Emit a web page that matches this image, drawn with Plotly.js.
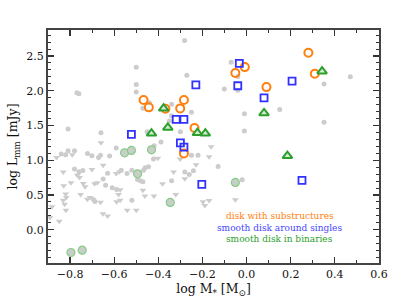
<!DOCTYPE html>
<html>
<head>
<meta charset="utf-8">
<script src="https://cdn.plot.ly/plotly-3.0.1.min.js"></script>
<style>html,body{margin:0;padding:0;background:#fff;}#chart{width:399px;height:299px;}</style>
</head>
<body>
<div id="chart"></div>
<script>
// Gray background sample: detections (circles)
const grayDetX = [-0.281,-0.500,-0.271,-0.500,-0.500,-0.769,-0.760,-0.470,-0.441,-0.340,-0.250,-0.340,-0.350,-0.809,-0.660,-0.451,-0.300,-0.388,-0.419,-0.591,-0.070,-0.040,-0.101,-0.040,-0.010,0.150,-0.010,0.351,0.470,0.351,
  -0.840,-0.820,-0.809,-0.780,-0.721,-0.701,-0.671,-0.662,-0.621,-0.780,-0.760,-0.742,-0.630,-0.568,-0.542,-0.650,-0.639,-0.609,-0.589,-0.694,-0.687,
  -0.422,-0.445,-0.460,-0.467,-0.520,-0.494,-0.482,-0.470,-0.340,-0.280,-0.260,-0.241,-0.250,-0.220,-0.520,-0.129,-0.020];
const grayDetY = [2.723,2.337,2.223,2.089,1.981,1.971,1.957,1.748,1.827,1.805,1.690,1.640,1.563,1.448,1.395,1.409,1.409,1.261,1.210,1.177,2.409,2.207,2.024,2.007,1.669,1.732,1.419,2.097,2.202,1.545,
  1.088,1.078,1.135,1.135,1.098,1.063,1.040,1.073,1.059,0.872,0.833,0.853,0.814,0.857,0.810,0.728,0.641,0.602,0.579,0.435,0.406,
  1.016,0.905,0.891,0.857,0.857,0.723,0.703,0.689,0.703,0.829,0.795,0.847,1.073,1.073,0.425,0.911,0.718];
// Gray background sample: upper limits (down triangles)
const grayLimX = [-0.660,-0.161,-0.861,-0.790,-0.650,-0.831,-0.701,-0.767,-0.757,-0.591,-0.576,-0.796,-0.829,-0.740,-0.732,-0.689,-0.677,-0.573,-0.580,-0.589,-0.573,-0.820,-0.817,-0.752,-0.722,-0.710,-0.662,-0.831,-0.825,-0.819,-0.882,-0.891,-0.849,-0.651,-0.630,-0.541,
  -0.402,-0.470,-0.461,-0.420,-0.381,-0.331,-0.301,-0.280,-0.229,-0.170,-0.321,-0.500,-0.198,-0.189,-0.170,-0.051];
const grayLimY = [1.251,1.193,1.040,1.078,0.929,0.829,0.867,0.785,0.752,0.810,0.833,0.674,0.631,0.666,0.617,0.660,0.674,0.573,0.507,0.401,0.425,0.512,0.464,0.507,0.439,0.464,0.396,0.425,0.367,0.281,0.329,0.176,0.122,0.228,0.195,0.281,
  1.030,0.569,0.483,0.483,0.660,0.829,1.016,0.732,0.934,1.049,0.507,0.281,0.401,0.349,0.421,0.429];
// Disk with substructures
const subX = [-0.467,-0.443,-0.368,-0.301,-0.284,-0.236,-0.284,0.280,-0.008,-0.051,0.309,0.090];
const subY = [1.866,1.761,1.741,1.746,1.866,1.463,1.098,2.548,2.341,2.255,2.245,2.053];
// Smooth disk around singles
const singX = [-0.522,-0.319,-0.284,-0.300,-0.284,-0.230,-0.033,-0.040,0.206,0.079,-0.203,0.251];
const singY = [1.372,1.588,1.588,1.251,1.189,2.086,2.395,2.072,2.140,1.899,0.651,0.709];
// Smooth disk in binaries (triangles)
const binX = [-0.431,-0.376,-0.357,-0.223,-0.187,0.342,0.079,0.185];
const binY = [1.386,1.746,1.470,1.393,1.386,2.280,1.679,1.063];
// Smooth disk in binaries (circles)
const bin2X = [-0.553,-0.522,-0.431,-0.494,-0.346,-0.796,-0.745,-0.051];
const bin2Y = [1.107,1.141,1.150,0.804,0.392,-0.329,-0.296,0.680];

const legendLabels = ['disk with substructures','smooth disk around singles','smooth disk in binaries'];
const legendColors = ['#ff7f0e','#4646ff','#2ca02c'];

const traces = [
  {x: grayDetX, y: grayDetY, type:'scatter', mode:'markers', marker:{symbol:'circle', size:5, color:'#cccccc'}, hoverinfo:'skip'},
  {x: grayLimX, y: grayLimY, type:'scatter', mode:'markers', marker:{symbol:'triangle-down', size:6, color:'#cccccc'}, hoverinfo:'skip'},
  {x: bin2X, y: bin2Y, type:'scatter', mode:'markers', marker:{symbol:'circle', size:8, color:'#c8cfc8', line:{color:'#86cc86', width:1.2}}},
  {x: subX, y: subY, type:'scatter', mode:'markers', marker:{symbol:'circle-open', size:8, color:'#ff7f0e', line:{color:'#ff7f0e', width:2}}},
  {x: singX, y: singY, type:'scatter', mode:'markers', marker:{symbol:'square-open', size:7, color:'#3232ff', line:{color:'#3232ff', width:1.8}}},
  {x: binX, y: binY, type:'scatter', mode:'markers', marker:{symbol:'triangle-up', size:8.5, color:'#d6ead6', line:{color:'#2ca02c', width:2}}}
];

const font = 'DejaVu Serif, serif';
const axisCommon = {
  showgrid:false, zeroline:false, showline:true, linecolor:'#444', linewidth:2, mirror:'allticks',
  ticks:'inside', ticklen:6, tickwidth:1.2, tickcolor:'#333',
  tickfont:{family:font, size:11, color:'#111'},
  minor:{ticks:'inside', ticklen:3, tickwidth:1, tickcolor:'#333', dtick:0.1}
};

const legendY = [0.203, 0.151, 0.101];
const annotations = legendLabels.map((t,i)=>({
  text:t, x:0.15, y:legendY[i], xref:'x', yref:'paper', xanchor:'center', yanchor:'middle', showarrow:false,
  font:{family:font, size:9, color:legendColors[i]}
}));

const layout = {
  width:399, height:299,
  margin:{l:48, r:20, t:30, b:36, pad:0},
  paper_bgcolor:'#fff', plot_bgcolor:'#fff',
  showlegend:false,
  xaxis:Object.assign({}, axisCommon, {range:[-0.9,0.6], dtick:0.2, tick0:0, tickformat:'.1f',
    title:{text:'log M<sub>*</sub> [M<sub>⊙</sub>]', font:{family:font, size:12.5, color:'#111'}, standoff:4}}),
  yaxis:Object.assign({}, axisCommon, {range:[-0.48,2.875], dtick:0.5, tick0:0, tickformat:'.1f',
    title:{text:'log L<sub>mm</sub> [mJy]', font:{family:font, size:12.5, color:'#111'}, standoff:6}}),
  annotations: annotations
};

Plotly.newPlot('chart', traces, layout, {displayModeBar:false, staticPlot:true});
</script>
</body>
</html>
